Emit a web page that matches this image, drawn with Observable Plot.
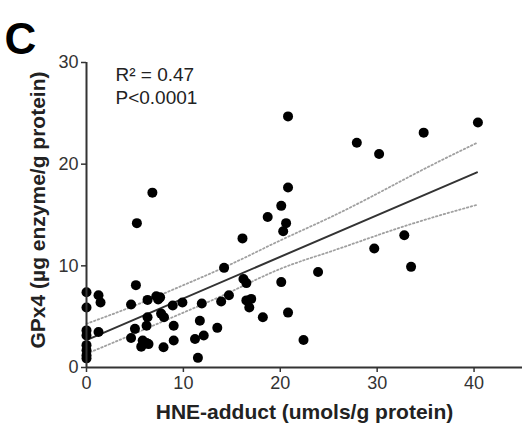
<!DOCTYPE html>
<html><head><meta charset="utf-8">
<script src="https://cdn.jsdelivr.net/npm/d3@7"></script>
<script src="https://cdn.jsdelivr.net/npm/@observablehq/plot@0.6"></script>
<style>body{margin:0;background:#fff}</style>
</head><body><div id="chart"></div>
<script>
// HNE-adduct (umols/g protein) vs GPx4 (µg enzyme/g protein)
const hne  = [0,0,0,0,0,0,0,0, 1.24,1.45,1.24, 4.6,5.1,5.2,6.8,5.0,4.6,5.8,6.2,5.65,6.4, 6.2,6.3,6.3,7.2,7.6,7.4, 7.7,8.0,7.95,9.0,8.9,9.9,9.0, 11.5,11.2,12.1,11.7,11.9,13.5,13.9,14.7,14.2, 16.1,16.2,16.5,16.5,17.0,16.8,18.2, 18.7,20.1,20.6,20.3,20.8,20.8,20.1,20.8,22.4,23.9, 27.9,30.2,29.7,32.8,33.5,34.8,40.4];
const gpx4 = [7.4,5.9,3.65,3.15,2.2,1.7,1.2,0.9, 7.1,6.4,3.5, 6.2,8.1,14.2,17.2,3.8,2.9,2.65,2.4,2.05,2.3, 4.1,4.95,6.65,7.0,6.9,6.7, 5.3,4.95,2.0,2.65,6.1,6.4,4.1, 0.95,2.8,3.15,4.6,6.3,3.9,6.5,7.1,9.8, 12.7,8.7,8.3,6.6,6.75,5.9,4.95, 14.8,15.9,14.2,13.4,17.7,24.7,8.4,5.4,2.7,9.4, 22.1,21.0,11.7,13.0,9.9,23.1,24.1];

// fitted regression line and its 95% confidence band
const fitX = [0, 40.3];
const fitY = [2.7, 19.2];
const bandX = [0, 5, 10, 15, 20, 25, 30, 35, 40.3];
const bandUpper = [4.3, 6.1, 8.1, 10.2, 12.5, 14.7, 17.1, 19.6, 22.1];
const bandLower = [1.35, 3.35, 5.4, 7.5, 9.7, 11.35, 13.0, 14.55, 16.0];

const xTicks = [0, 10, 20, 30, 40];
const yTicks = [0, 10, 20, 30];
const stats = ["R² = 0.47", "P<0.0001"];
const panelLabel = "C";
const xLabel = "HNE-adduct (umols/g protein)";
const yLabel = "GPx4 (µg enzyme/g protein)";

const points = hne.map((x, i) => ({x, y: gpx4[i]}));
const band = bandX.map((x, i) => ({x, upper: bandUpper[i], lower: bandLower[i]}));
const fit = fitX.map((x, i) => ({x, y: fitY[i]}));

const font = "'Liberation Sans', Arial, sans-serif";
const chart = Plot.plot({
  width: 522, height: 433,
  marginLeft: 86, marginRight: 0, marginTop: 62, marginBottom: 66,
  style: {fontFamily: font, background: "#fff", overflow: "visible"},
  x: {domain: [0, 45], label: null},
  y: {domain: [0, 30], label: null},
  marks: [
    Plot.line(band, {x: "x", y: "upper", stroke: "#a0a0a0", strokeWidth: 1.8, strokeDasharray: "1.5,2.5", curve: "natural"}),
    Plot.line(band, {x: "x", y: "lower", stroke: "#a0a0a0", strokeWidth: 1.8, strokeDasharray: "1.5,2.5", curve: "natural"}),
    Plot.line(fit, {x: "x", y: "y", stroke: "#333", strokeWidth: 2}),
    Plot.dot(points, {x: "x", y: "y", r: 5, fill: "#000", stroke: "none"}),
    Plot.ruleX([0], {stroke: "#333", strokeWidth: 2}),
    Plot.ruleY([0], {stroke: "#333", strokeWidth: 2}),
    Plot.axisX({ticks: xTicks, tickSize: 5, tickPadding: 4, fontSize: 18, stroke: "#333", strokeWidth: 1.5, color: "#333", label: null}),
    Plot.axisY({ticks: yTicks, tickSize: 5, tickPadding: 3, fontSize: 18, stroke: "#333", strokeWidth: 1.5, color: "#333", label: null}),
    Plot.text([xLabel], {frameAnchor: "bottom", dy: 45, fontSize: 21, fontWeight: "bold", fill: "#222", textAnchor: "middle", lineAnchor: "middle"}),
    Plot.text([yLabel], {frameAnchor: "left", dx: -48, dy: -5, rotate: -90, fontSize: 21, fontWeight: "bold", fill: "#222", textAnchor: "middle", lineAnchor: "middle"}),
    Plot.text([stats[0]], {frameAnchor: "top-left", dx: 29, dy: 12, fontSize: 19, textAnchor: "start", lineAnchor: "middle", fill: "#222"}),
    Plot.text([stats[1]], {frameAnchor: "top-left", dx: 29, dy: 35, fontSize: 19, textAnchor: "start", lineAnchor: "middle", fill: "#222"}),
    Plot.text([panelLabel], {frameAnchor: "top-left", dx: -66, dy: -23, fontSize: 44, fontWeight: "bold", fill: "#000", textAnchor: "middle", lineAnchor: "middle"})
  ]
});
document.getElementById("chart").appendChild(chart);
</script>
</body></html>
